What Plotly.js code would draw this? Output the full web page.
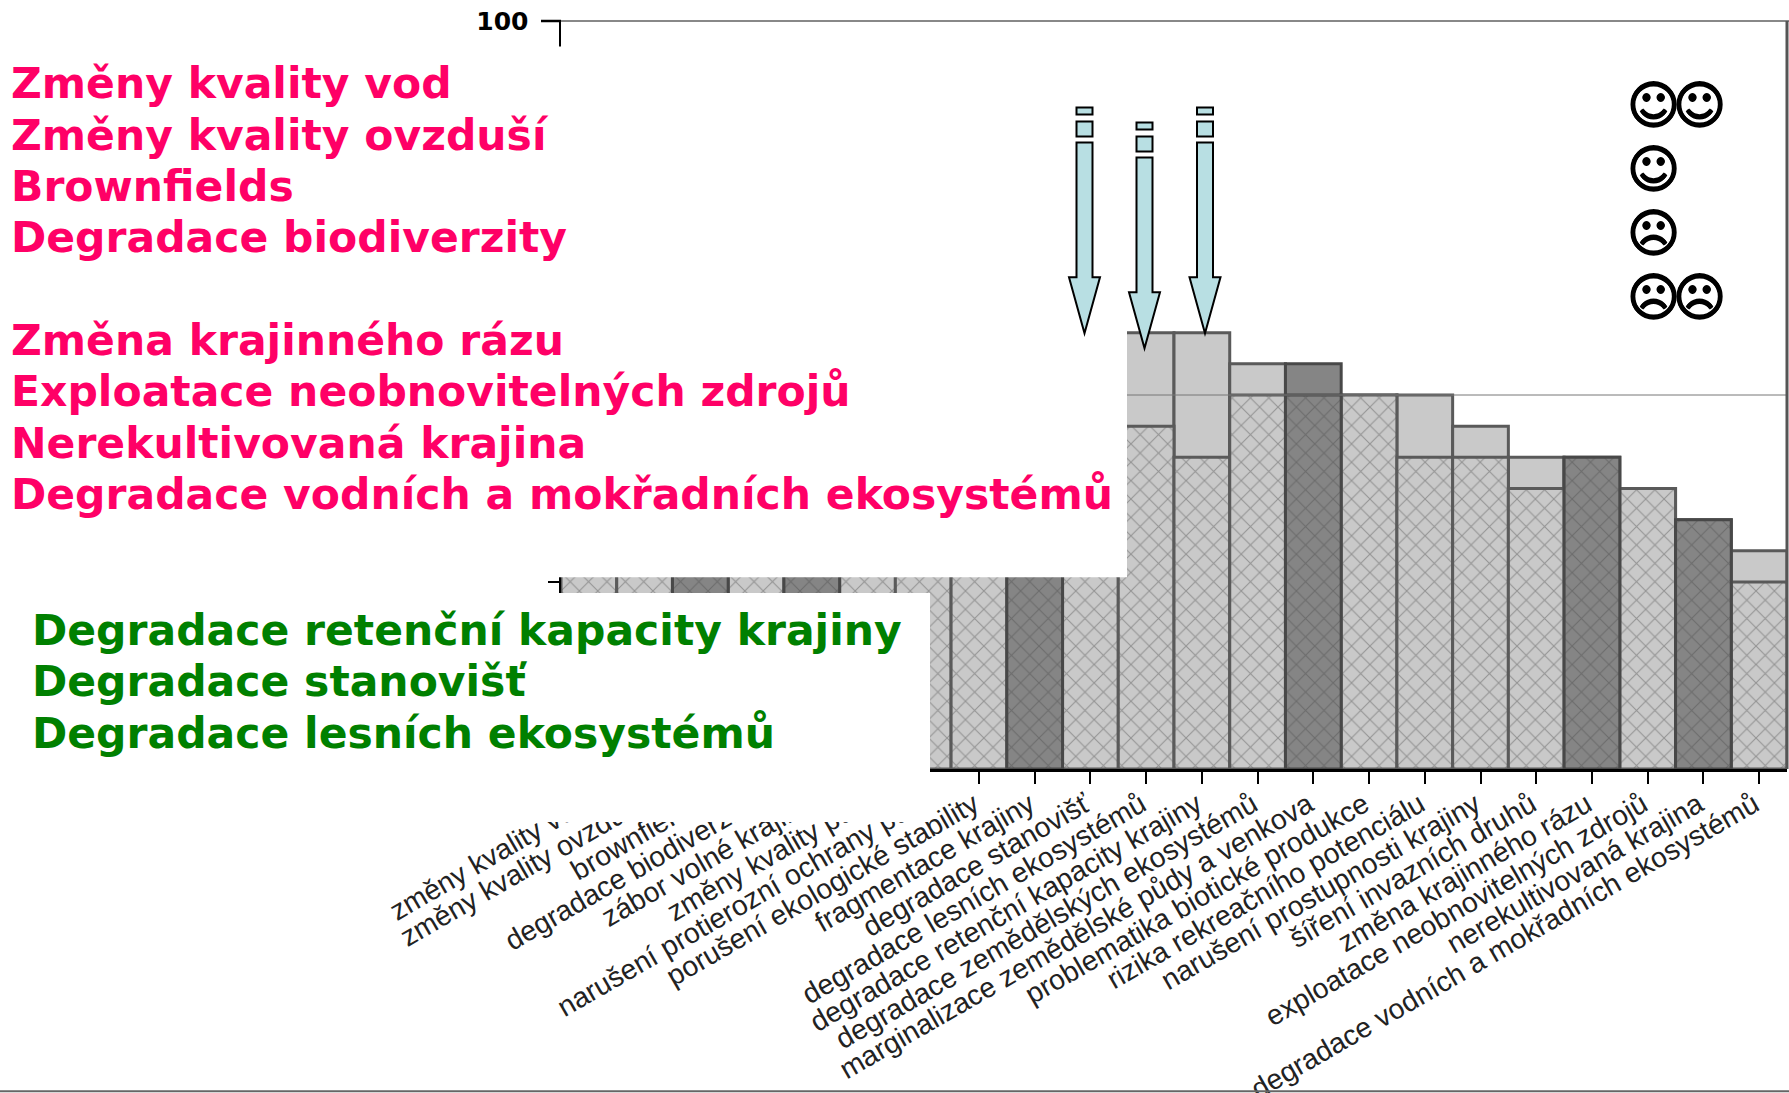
<!DOCTYPE html>
<html><head><meta charset="utf-8">
<script src="https://cdn.plot.ly/plotly-3.0.1.min.js"></script>
<style>html,body{margin:0;padding:0;background:#fff;overflow:hidden}</style></head>
<body><div id="chart" style="width:1789px;height:1093px"></div>
<script>
const categories = ["změny kvality vod","změny kvality ovzduší","brownfields","degradace biodiverzity","zábor volné krajiny","změny kvality půd","narušení protierozní ochrany půd","porušení ekologické stability","fragmentace krajiny","degradace stanovišť","degradace lesních ekosystémů","degradace retenční kapacity krajiny","degradace zemědělských ekosystémů","marginalizace zemědělské půdy a venkova","problematika biotické produkce","rizika rekreačního potenciálu","narušení prostupnosti krajiny","šíření invazních druhů","změna krajinného rázu","exploatace neobnovitelných zdrojů","nerekultivovaná krajina","degradace vodních a mokřadních ekosystémů"];
const totals  = [83.3,79.2,75,75,70.8,70.8,66.7,66.7,62.5,62.5,58.33,58.33,54.17,54.17,50,50,45.83,41.67,41.67,37.5,33.33,29.17];
const hatched = [75,70.8,66.7,62.5,62.5,58.3,58.3,54.2,54.2,50,45.83,41.67,50,50,50,41.67,41.67,37.5,41.67,37.5,33.33,25];
const darkBars = ["brownfields","zábor volné krajiny","fragmentace krajiny","marginalizace zemědělské půdy a venkova","změna krajinného rázu","nerekultivovaná krajina"];
const pinkLines = ["Změny kvality vod","Změny kvality ovzduší","Brownfields","Degradace biodiverzity","","Změna krajinného rázu","Exploatace neobnovitelných zdrojů","Nerekultivovaná krajina","Degradace vodních a mokřadních ekosystémů"];
const greenLines = ["Degradace retenční kapacity krajiny","Degradace stanovišť","Degradace lesních ekosystémů"];
const smileyRows = [["☺","☺"],["☺"],["☹"],["☹","☹"]];
const yTicks = [0,25,50,75,100];
const yTickText = ["","","","","100"];

const W=1789,H=1093,L=561,R=2,T=20.5,B=324;
const px=x=>(x-L)/(W-L-R), py=y=>1-(y-T)/(H-T-B);
const isDark=categories.map(c=>darkBars.includes(c));
const fill=isDark.map(d=>d?"#858585":"#c9c9c9");
const lineC=isDark.map(d=>d?"#484848":"#5a5a5a");

const shapes=[];
function rect(x0,y0,x1,y1,o){shapes.push(Object.assign({type:"rect",xref:"paper",yref:"paper",x0:px(x0),x1:px(x1),y0:py(y0),y1:py(y1),layer:"above",line:{width:0},fillcolor:"#fff"},o||{}));}
function line(x0,y0,x1,y1,c,w){shapes.push({type:"line",xref:"paper",yref:"paper",x0:px(x0),x1:px(x1),y0:py(y0),y1:py(y1),layer:"above",line:{color:c,width:w}});}
// 50 % reference line, then the white panels that hide the left of the chart
shapes.push({type:"line",xref:"x",yref:"y",x0:-0.5,x1:21.5,y0:50,y1:50,layer:"above",line:{color:"#777",width:1}});
rect(0,46,1127,577);
rect(0,593,930,822);
line(541,20.5,561,20.5,"#000",2.5);
line(561,20.5,1789,20.5,"#888",2);
line(1787,20.5,1787,769,"#555",3);
line(0,1091.5,1789,1091.5,"#666",2);
function arrow(cx,off){
  const s={fillcolor:"#b8dfe3",line:{color:"#000",width:2}};
  rect(cx-8,107+off,cx+8,114+off,s);
  rect(cx-8,121+off,cx+8,136+off,s);
  const Y=v=>py(v+off), X=v=>px(cx+v);
  shapes.push({type:"path",xref:"paper",yref:"paper",layer:"above",fillcolor:s.fillcolor,line:s.line,
    path:`M${X(-8)},${Y(142)} L${X(8)},${Y(142)} L${X(8)},${Y(277)} L${X(15.5)},${Y(277)} L${X(0)},${Y(333)} L${X(-15.5)},${Y(277)} L${X(-8)},${Y(277)} Z`});
}
arrow(1084.5,0);arrow(1144.5,15);arrow(1205,0);

const ann=[];
function txt(t,x,y,c,size,fam,shadow){ann.push({text:t,xref:"paper",yref:"paper",x:px(x),y:py(y),xanchor:"left",yanchor:"middle",showarrow:false,borderpad:0,font:{family:fam,size:size,color:c,shadow:shadow||"none"}});}
const pinkY=[83,135,186,237,289,340,391,443,494];
pinkLines.forEach((t,i)=>{if(t)txt("<b>"+t+"</b>",10,pinkY[i],"#ff0066",42.5,"DejaVu Sans");});
const greenY=[630,681,733];
greenLines.forEach((t,i)=>txt("<b>"+t+"</b>",31,greenY[i],"#008000",42.5,"DejaVu Sans"));
const smY=[105,169,233,297];
const heavy="0.7px 0 0 #000,-0.7px 0 0 #000,0 0.7px 0 #000,0 -0.7px 0 #000";
smileyRows.forEach((row,i)=>row.forEach((g,j)=>txt("<b>"+g+"</b>",1626+j*46,smY[i],"#000",51,"DejaVu Sans",heavy)));

const hatchTrace=(dark,fg,bg,lc)=>{
  const idx=categories.map((c,i)=>i).filter(i=>isDark[i]===dark);
  return {type:"bar",x:idx.map(i=>categories[i]),y:idx.map(i=>hatched[i]),width:1,hoverinfo:"skip",
    marker:{color:bg,line:{color:lc,width:3},pattern:{shape:"x",size:13,solidity:0.16,fgcolor:fg,bgcolor:bg,fgopacity:1}}};
};
Plotly.newPlot("chart",[
 {type:"bar",x:categories,y:totals,width:1,marker:{color:fill,line:{color:lineC,width:3}},hoverinfo:"skip"},
 hatchTrace(false,"#949494","#c9c9c9","#5a5a5a"),
 hatchTrace(true,"#6c6c6c","#858585","#484848")
],{
 width:W,height:H,barmode:"overlay",showlegend:false,paper_bgcolor:"#fff",plot_bgcolor:"#fff",
 margin:{l:L,r:R,t:T,b:B,pad:0},
 xaxis:{type:"category",categoryorder:"array",categoryarray:categories,range:[-0.5,21.5],tickangle:-30,ticks:"outside",ticklen:12,tickwidth:2,tickcolor:"#000",
   ticklabelstandoff:-7,ticklabelshift:-5,
   tickfont:{family:"Liberation Sans",size:28.4,color:"#222"},showline:true,linecolor:"#000",linewidth:3,showgrid:false,zeroline:false,automargin:false},
 yaxis:{range:[0,100],tickmode:"array",tickvals:yTicks,ticktext:yTickText,ticks:"outside",ticklen:11,tickwidth:2.5,tickcolor:"#000",
   tickfont:{family:"DejaVu Sans",size:25,color:"#000",weight:"bold"},ticklabelstandoff:14,showline:true,linecolor:"#000",linewidth:2.5,showgrid:false,zeroline:false,automargin:false},
 shapes:shapes,
 annotations:ann
},{staticPlot:true});
</script></body></html>
